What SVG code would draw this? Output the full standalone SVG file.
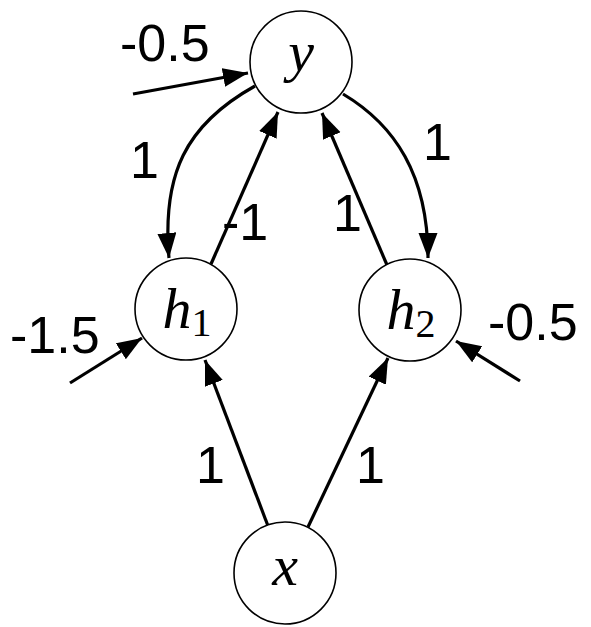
<svg xmlns="http://www.w3.org/2000/svg" width="591" height="627" viewBox="0 0 591 627">
<style>
.node{fill:#fff;stroke:#000;stroke-width:1.6}
.math{font-family:"Liberation Serif","DejaVu Serif",serif;font-style:italic;font-size:58px;fill:#000}
.sub{font-family:"Liberation Serif","DejaVu Serif",serif;font-style:normal;font-size:40px;fill:#000}
.lbl{font-family:"Liberation Sans",Arial,sans-serif;font-size:52px;fill:#000}
.edge{fill:none;stroke:#000;stroke-width:3.2;marker-end:url(#ah)}
</style>
<defs>
<marker id="ah" markerUnits="userSpaceOnUse" markerWidth="27" markerHeight="20" refX="25" refY="9.5" orient="auto">
<path d="M0,0 L25,9.5 L0,19 z" fill="#000"/>
</marker>
</defs>
<rect width="591" height="627" fill="#fff"/>
<g id="connectors">
<line class="edge" x1="133" y1="94" x2="248" y2="73"/>
<path class="edge" d="M255,86 C185,125 162,175 169,258"/>
<line class="edge" x1="211" y1="264" x2="278" y2="112"/>
<line class="edge" x1="387" y1="265" x2="322" y2="113"/>
<path class="edge" d="M343,94 C395,125 428,175 428,258"/>
<line class="edge" x1="70" y1="383" x2="142" y2="338"/>
<line class="edge" x1="520" y1="381" x2="456" y2="341"/>
<line class="edge" x1="268" y1="526" x2="205" y2="360"/>
<line class="edge" x1="308" y1="527" x2="388" y2="358"/>
</g>
<g id="labels">
<text class="lbl" x="120" y="61">-0.5</text>
<text class="lbl" x="130" y="178">1</text>
<text class="lbl" x="222" y="240">-1</text>
<text class="lbl" x="333" y="231">1</text>
<text class="lbl" x="423" y="160">1</text>
<text class="lbl" x="10" y="353">-1.5</text>
<text class="lbl" x="488" y="340">-0.5</text>
<text class="lbl" x="196" y="483">1</text>
<text class="lbl" x="356" y="483">1</text>
</g>
<g id="node-y">
<circle class="node" cx="301" cy="62" r="51"/>
<text class="math" x="301" y="71" text-anchor="middle">y</text>
</g>
<g id="node-h1">
<circle class="node" cx="186" cy="309" r="51"/>
<text x="187" y="328" text-anchor="middle"><tspan class="math">h</tspan><tspan class="sub" dy="8">1</tspan></text>
</g>
<g id="node-h2">
<circle class="node" cx="410" cy="310" r="51"/>
<text x="411" y="329" text-anchor="middle"><tspan class="math">h</tspan><tspan class="sub" dy="8">2</tspan></text>
</g>
<g id="node-x">
<circle class="node" cx="285" cy="573" r="51"/>
<text class="math" x="285" y="585" text-anchor="middle">x</text>
</g>
</svg>
